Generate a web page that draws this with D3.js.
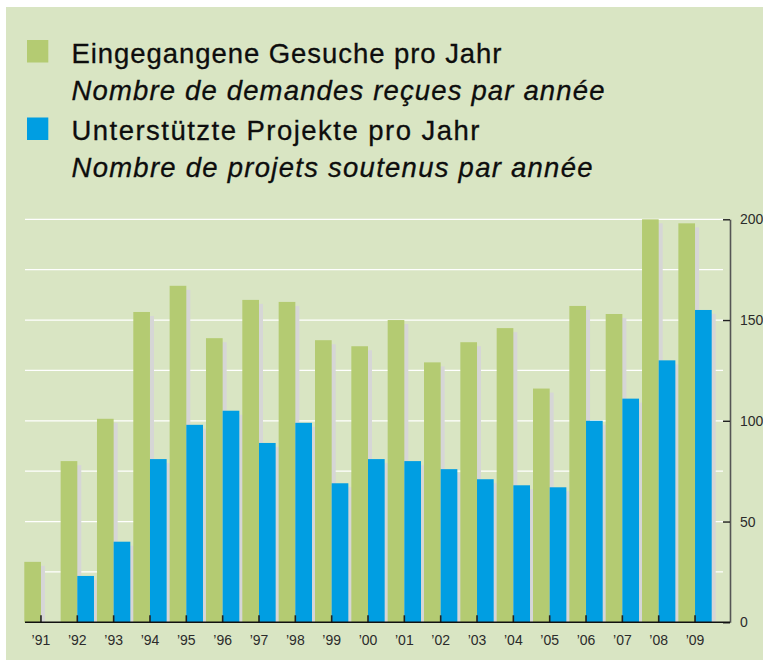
<!DOCTYPE html>
<html>
<head>
<meta charset="utf-8">
<script src="https://cdn.jsdelivr.net/npm/d3@7"></script>
<style>
  html, body { margin: 0; padding: 0; background: #ffffff; }
  svg { display: block; }
</style>
</head>
<body>
<svg id="chart" width="763" height="661"></svg>
<script>
// ---- data ----
const years = ["’91","’92","’93","’94","’95","’96","’97","’98","’99","’00","’01","’02","’03","’04","’05","’06","’07","’08","’09"];
const received = [30, 80, 101, 154, 167, 141, 160, 159, 140, 137, 150, 129, 139, 146, 116, 157, 153, 200, 198];
const supported = [null, 23, 40, 81, 98, 105, 89, 99, 69, 81, 80, 76, 71, 68, 67, 100, 111, 130, 155];
const yTicks = [0, 50, 100, 150, 200];
const gridValues = [25, 50, 75, 100, 125, 150, 175, 200];
const seriesKeys = ["received", "supported"];
const legendLines = [
  {text: "Eingegangene Gesuche pro Jahr", italic: false, swatch: "received"},
  {text: "Nombre de demandes reçues par année", italic: true, swatch: null},
  {text: "Unterstützte Projekte pro Jahr", italic: false, swatch: "supported"},
  {text: "Nombre de projets soutenus par année", italic: true, swatch: null}
];

// ---- styles ----
const colors = {received: "#b4cb72", supported: "#009ee2"};
const bg = "#d9e5c3";
const shadowColor = "#d6d6d6";
const font = "'Liberation Sans', Arial, sans-serif";

const svg = d3.select("#chart");

// panel
svg.append("rect").attr("x", 6).attr("y", 7).attr("width", 757).attr("height", 653).attr("fill", bg);

// scales
const x = d3.scaleBand().domain(years).range([24.3, 711.7]).paddingInner(0.0826).paddingOuter(0);
const xs = d3.scaleBand().domain(seriesKeys).range([0, x.bandwidth()]);
const y = d3.scaleLinear().domain([0, 200]).range([622.3, 219.3]);

const axisX = 730;

// gridlines
svg.append("g").selectAll("line").data(gridValues).join("line")
  .attr("x1", 25).attr("x2", axisX - 7)
  .attr("y1", d => y(d)).attr("y2", d => y(d))
  .attr("stroke", "#ffffff").attr("stroke-width", 1.2);

// data table
const rows = years.map((yr, i) => ({year: yr, received: received[i], supported: supported[i]}));
const flat = [];
rows.forEach(r => seriesKeys.forEach(k => { if (r[k] != null) flat.push({year: r.year, key: k, value: r[k]}); }));

// shadows
svg.append("g").selectAll("rect").data(flat).join("rect")
  .attr("x", d => x(d.year) + xs(d.key) + 4)
  .attr("y", d => y(d.value) + 4)
  .attr("width", xs.bandwidth())
  .attr("height", d => y(0) - y(d.value) - 4)
  .attr("fill", shadowColor);

// bars
svg.append("g").selectAll("rect").data(flat).join("rect")
  .attr("x", d => x(d.year) + xs(d.key))
  .attr("y", d => y(d.value))
  .attr("width", xs.bandwidth())
  .attr("height", d => y(0) - y(d.value))
  .attr("fill", d => colors[d.key]);

// right axis
const yAxis = d3.axisRight(y).tickValues(yTicks).tickSize(0).tickPadding(10);
const ya = svg.append("g").attr("transform", `translate(${axisX},0)`).call(yAxis);
ya.attr("font-size", null).attr("font-family", null);
ya.select(".domain").attr("stroke", "#555").attr("stroke-width", 1.6);
ya.selectAll(".tick text").style("font-family", font).style("font-size", "14px").attr("fill", "#2b2b2b");
ya.selectAll(".tick").append("line").attr("x1", -7).attr("x2", 0).attr("stroke", "#222").attr("stroke-width", 1.4);

// bottom axis
const xAxis = d3.axisBottom(x).tickSize(0).tickPadding(13);
const xa = svg.append("g").attr("transform", `translate(0,${y(0)})`).call(xAxis);
xa.attr("font-size", null).attr("font-family", null);
xa.select(".domain").remove();
xa.selectAll(".tick text").style("font-family", font).style("font-size", "14px").attr("fill", "#2b2b2b");
xa.selectAll(".tick").append("line").attr("y1", -7).attr("y2", 0).attr("stroke", "#222").attr("stroke-width", 1.6);
svg.append("line").attr("x1", 25).attr("x2", axisX).attr("y1", y(0)).attr("y2", y(0))
  .attr("stroke", "#111").attr("stroke-width", 1.6);

// legend
const legendBaselines = [62.5, 100, 140, 177];
const legendWidths = [430, 533, 408, 521];
const lg = svg.append("g");
legendLines.forEach((l, i) => {
  const t = lg.append("text")
    .attr("x", 71.5).attr("y", legendBaselines[i])
    .attr("font-family", font).attr("font-size", 27.5)
    .attr("font-style", l.italic ? "italic" : "normal")
    .attr("fill", "#0d0d0d")
    .attr("stroke", "#0d0d0d").attr("stroke-width", 0.3)
    .text(l.text);
  const w = t.node().getComputedTextLength();
  if (Math.abs(w - legendWidths[i]) > 2) {
    t.attr("textLength", legendWidths[i]).attr("lengthAdjust", "spacing");
  }
  if (l.swatch) {
    lg.append("rect").attr("x", 27).attr("y", legendBaselines[i] - 22.5)
      .attr("width", 21.3).attr("height", 22.5).attr("fill", colors[l.swatch]);
  }
});
</script>
</body>
</html>
